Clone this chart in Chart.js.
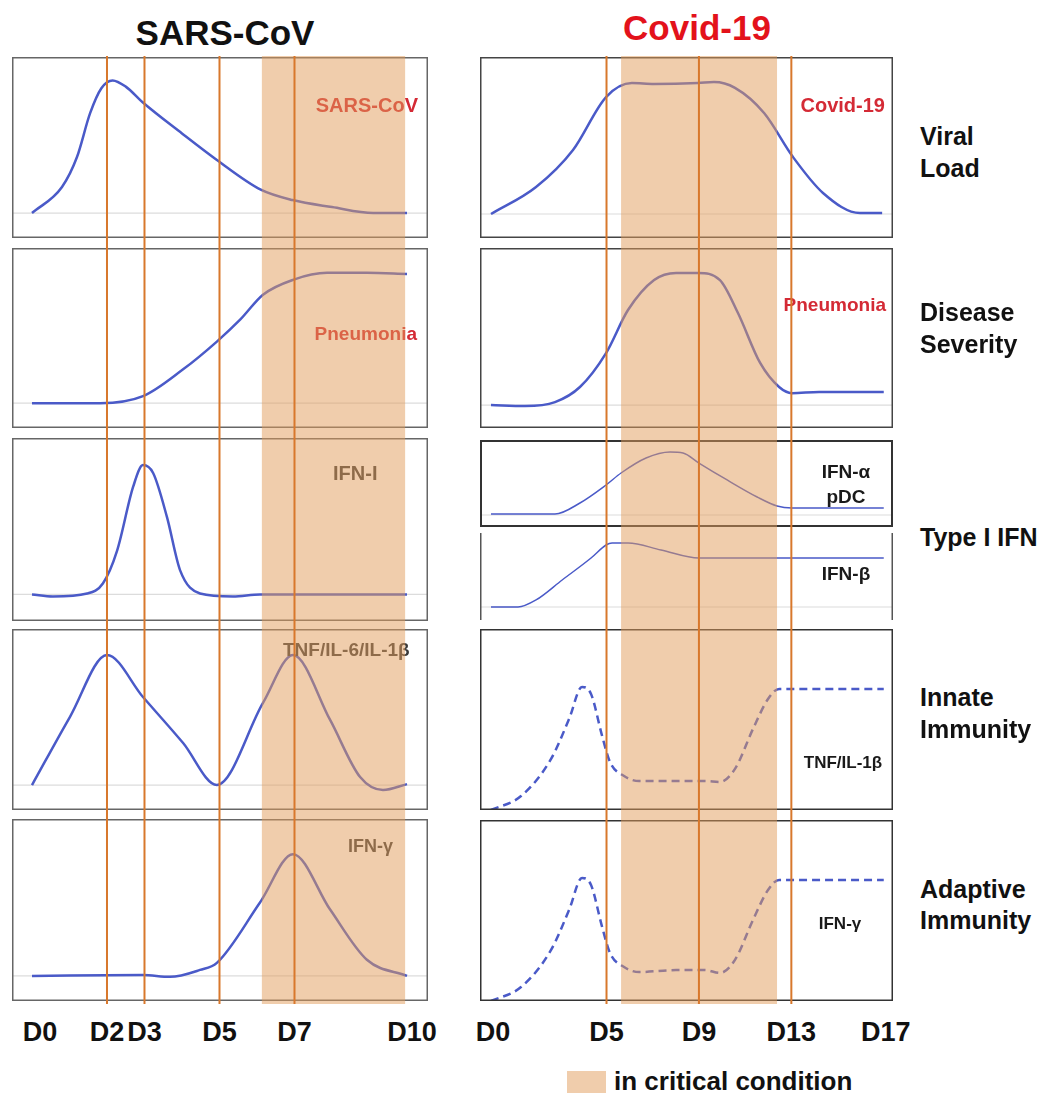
<!DOCTYPE html>
<html>
<head>
<meta charset="utf-8">
<script src="https://cdn.jsdelivr.net/npm/chart.js@4.4.1/dist/chart.umd.min.js"></script>
<style>
  body { margin: 0; background: #fff; }
  #page { position: relative; width: 1046px; height: 1093px; overflow: hidden;
          font-family: "Liberation Sans", Arial, sans-serif; font-weight: bold; }
  #page canvas { position: absolute; }
  .txt { position: absolute; white-space: nowrap; line-height: 1; }
</style>
</head>
<body>
<div id="page"></div>
<script>
// x = day after onset, y = relative level (0 = baseline of each panel)
const sarsViralDays  = [0, 0.8, 1.2, 1.55, 1.85, 2.15, 2.5, 2.95, 4.0, 4.93, 6.1, 6.95, 8.0, 9.1, 10];
const sarsViralLevel = [0, 16.7, 35.9, 64, 80, 85, 81, 71, 51, 34, 15, 8.3, 3.8, 0, 0];

const sarsPneuDays  = [0, 1.82, 2.96, 4.03, 4.93, 5.55, 6.16, 6.96, 7.87, 8.93, 10];
const sarsPneuLevel = [0, 0, 4.5, 21.8, 39.7, 53.8, 69.9, 79.5, 84, 84, 83.3];

const sarsIfnDays  = [0, 0.56, 1.47, 1.89, 2.27, 2.7, 2.96, 3.23, 3.6, 3.95, 4.48, 5.36, 6.08, 10];
const sarsIfnLevel = [0, -1.3, 0.6, 7, 28, 69, 82.7, 77.6, 49.4, 15.4, 0.6, -1.3, 0, 0];

const sarsTnfDays  = [0, 1.01, 2.0, 2.96, 4.03, 4.93, 6.16, 6.96, 7.95, 8.75, 9.36, 10];
const sarsTnfLevel = [0, 43.6, 83.3, 56.4, 26.9, 0, 52.6, 83.3, 41.7, 5.1, -3.2, 0.6];

const sarsGammaDays  = [0, 2.96, 3.68, 4.48, 4.93, 6.08, 6.96, 7.95, 8.93, 10];
const sarsGammaLevel = [0, 0.6, -0.6, 3.8, 8.3, 46.8, 77.6, 42.3, 10.3, 0];

const covidViralDays  = [0, 1.95, 3.55, 4.98, 6.1, 7.06, 8.96, 9.65, 10.56, 11.82, 13.07, 14.37, 15.97, 16.93];
const covidViralLevel = [0, 17.2, 40.8, 74.5, 83.4, 82.8, 83.4, 84, 80.3, 64.3, 36.3, 13.4, 0.6, 0.6];

const covidPneuDays  = [0, 1.47, 2.77, 3.85, 4.98, 5.93, 7.06, 8.01, 8.96, 9.91, 10.69, 11.65, 12.47, 13.03, 14.2, 17];
const covidPneuLevel = [0, -0.6, 1.9, 11.5, 33.1, 60.5, 79.6, 84.1, 84.1, 79.6, 58.6, 26.8, 11.5, 7.6, 8.3, 8.3];

const covidAlphaDays  = [0, 2.77, 3.85, 4.98, 5.63, 6.71, 7.75, 8.31, 9.0, 10.22, 11.52, 12.38, 13.03, 17];
const covidAlphaLevel = [1.3, 1.3, 16, 40, 56, 76, 84, 82.7, 69.3, 46.7, 24, 12, 9.3, 9.3];

const covidBetaDays  = [0, 1.17, 1.95, 3.08, 4.33, 4.98, 5.24, 5.93, 7.36, 9.0, 10.22, 17];
const covidBetaLevel = [0, 0, 9.5, 36.5, 66.2, 83.8, 86.5, 86.5, 77, 66.2, 66.2, 66.2];

const covidInnateDays  = [0, 1.3, 2.6, 3.38, 3.94, 4.33, 4.81, 5.15, 5.76, 6.41, 8.01, 9.26, 9.91, 10.56, 11.34, 11.99, 12.47, 12.94, 17];
const covidInnateLevel = [0, 7.7, 28.2, 50.3, 68, 64.1, 40.9, 26.5, 18.8, 16, 16, 16, 15.5, 22.7, 44.8, 61.3, 66.9, 66.9, 66.9];

const covidAdaptDays  = [0, 1.3, 2.6, 3.38, 3.94, 4.33, 4.81, 5.15, 5.76, 6.41, 8.01, 9.26, 9.91, 10.56, 11.34, 11.99, 12.47, 12.94, 17];
const covidAdaptLevel = [0, 7.7, 28.2, 50.3, 68, 64.1, 40.9, 26.5, 18.8, 16, 17.1, 17.1, 15.5, 22.7, 44.8, 61.3, 66.9, 66.9, 66.9];

const sarsMarkers   = [2, 3, 5, 7];
const sarsCritical  = [6.13, 9.95];
const sarsTicks     = [0, 2, 3, 5, 7, 10];
const covidMarkers  = [5, 9, 13];
const covidCritical = [5.63, 12.38];
const covidTicks    = [0, 5, 9, 13, 17];

const BLUE = '#4a5ac8';
const ORANGE = '#d8782c';
const BAND = 'rgba(225,155,90,0.5)';
const RED = '#d42a35';

const page = document.getElementById('page');

// column geometry: canvas left / width, visible day range, small label nudges at the ends
const cols = {
  sars:  { left: 12,  width: 416, min: -0.533, max: 10.56, nudge: { 0: 8, 10: 5 } },
  covid: { left: 480, width: 413, min: -0.476, max: 17.40, nudge: { 0: 2, 17: 2 } }
};

const panelBox = {
  id: 'panelBox',
  afterDraw(chart, args, opts) {
    const c = chart.ctx, w = chart.width, h = chart.height, lw = opts.width;
    c.save();
    c.strokeStyle = opts.color;
    c.lineWidth = lw;
    if (opts.sides === 'lr') {
      c.beginPath();
      c.moveTo(lw / 2, 0); c.lineTo(lw / 2, h);
      c.moveTo(w - lw / 2, 0); c.lineTo(w - lw / 2, h);
      c.stroke();
    } else {
      c.strokeRect(lw / 2, lw / 2, w - lw, h - lw);
    }
    c.restore();
  }
};

const bandPlugin = {
  id: 'critBand',
  beforeDatasetsDraw(chart, args, opts) {
    const x = chart.scales.x, a = chart.chartArea;
    const x0 = x.getPixelForValue(opts.range[0]);
    const x1 = x.getPixelForValue(opts.range[1]);
    chart.ctx.save();
    chart.ctx.fillStyle = BAND;
    chart.ctx.fillRect(x0, a.top, x1 - x0, a.bottom - a.top);
    chart.ctx.restore();
  }
};

function makeCanvas(left, top, w, h, z) {
  const cv = document.createElement('canvas');
  cv.width = w; cv.height = h;
  cv.style.left = left + 'px'; cv.style.top = top + 'px';
  cv.style.width = w + 'px'; cv.style.height = h + 'px';
  cv.style.zIndex = z;
  page.appendChild(cv);
  return cv;
}

function addText(str, x, base, size, color, align, z) {
  const d = document.createElement('div');
  d.className = 'txt';
  d.textContent = str;
  d.style.fontSize = size + 'px';
  d.style.color = color;
  d.style.top = (base - 0.8465 * size) + 'px';
  d.style.zIndex = z || 4;
  if (align === 'center') { d.style.left = x + 'px'; d.style.transform = 'translateX(-50%)'; }
  else if (align === 'right') { d.style.right = (1046 - x) + 'px'; }
  else { d.style.left = x + 'px'; }
  page.appendChild(d);
}

function panel(cfg) {
  const col = cols[cfg.col];
  const cv = makeCanvas(col.left, cfg.top, col.width, cfg.bottom - cfg.top, 1);
  const datasets = [{
    data: cfg.days.map((d, i) => ({ x: d, y: cfg.level[i] })),
    borderColor: BLUE,
    borderWidth: cfg.lw || 2.5,
    borderDash: cfg.dash || [],
    cubicInterpolationMode: 'monotone',
    pointRadius: 0,
    order: 0
  }];
  if (cfg.baseline !== false) {
    datasets.push({
      data: [{ x: col.min, y: 0 }, { x: col.max, y: 0 }],
      borderColor: '#dcdcdc',
      borderWidth: 1.2,
      pointRadius: 0,
      order: 1
    });
  }
  new Chart(cv, {
    type: 'line',
    data: { datasets },
    options: {
      responsive: false, animation: false, events: [],
      devicePixelRatio: 1,
      layout: { padding: 0 },
      scales: {
        x: { type: 'linear', min: col.min, max: col.max, display: false },
        y: { min: cfg.yMin, max: 100, display: false }
      },
      plugins: {
        legend: { display: false }, tooltip: { enabled: false },
        panelBox: { color: cfg.boxColor || '#666', width: cfg.boxWidth || 1.5, sides: cfg.sides || 'all' }
      }
    },
    plugins: [panelBox]
  });
}

function overlay(colKey, markers, crit, ticks) {
  const col = cols[colKey];
  const top = 56, bottom = 1004;
  const cv = makeCanvas(col.left, top, col.width, bottom - top, 3);
  const chart = new Chart(cv, {
    type: 'line',
    data: {
      datasets: markers.map(d => ({
        data: [{ x: d, y: 0 }, { x: d, y: 1 }],
        borderColor: ORANGE, borderWidth: 2, pointRadius: 0
      }))
    },
    options: {
      responsive: false, animation: false, events: [],
      devicePixelRatio: 1,
      layout: { padding: 0 },
      scales: {
        x: { type: 'linear', min: col.min, max: col.max, display: false },
        y: { min: 0, max: 1, display: false }
      },
      plugins: { legend: { display: false }, tooltip: { enabled: false }, critBand: { range: crit } }
    },
    plugins: [bandPlugin]
  });
  ticks.forEach(t => {
    const x = col.left + chart.scales.x.getPixelForValue(t) + (col.nudge[t] || 0);
    addText('D' + t, x, 1042, 27, '#111', 'center');
  });
}

// left column: SARS-CoV
panel({ col: 'sars', top: 57,  bottom: 238,  yMin: -16, days: sarsViralDays, level: sarsViralLevel });
panel({ col: 'sars', top: 248, bottom: 428,  yMin: -16, days: sarsPneuDays,  level: sarsPneuLevel });
panel({ col: 'sars', top: 438, bottom: 621,  yMin: -17, days: sarsIfnDays,   level: sarsIfnLevel });
panel({ col: 'sars', top: 629, bottom: 810,  yMin: -16, days: sarsTnfDays,   level: sarsTnfLevel });
panel({ col: 'sars', top: 819, bottom: 1001, yMin: -16, days: sarsGammaDays, level: sarsGammaLevel });

// right column: Covid-19
panel({ col: 'covid', top: 57,  bottom: 238, yMin: -15.3, days: covidViralDays, level: covidViralLevel, boxColor: '#444' });
panel({ col: 'covid', top: 248, bottom: 428, yMin: -14.6, days: covidPneuDays,  level: covidPneuLevel,  boxColor: '#444' });
panel({ col: 'covid', top: 440, bottom: 527, yMin: -16,   days: covidAlphaDays, level: covidAlphaLevel, boxColor: '#333', boxWidth: 2, lw: 1.5 });
panel({ col: 'covid', top: 533, bottom: 620, yMin: -17.6, days: covidBetaDays,  level: covidBetaLevel,  boxColor: '#555', sides: 'lr', lw: 1.5 });
panel({ col: 'covid', top: 629, bottom: 810, yMin: 0, days: covidInnateDays, level: covidInnateLevel, baseline: false, dash: [8, 5], boxColor: '#333' });
panel({ col: 'covid', top: 820, bottom: 1001, yMin: 0, days: covidAdaptDays, level: covidAdaptLevel, baseline: false, dash: [8, 5], boxColor: '#333' });

// labels inside panels (under the critical band)
addText('SARS-CoV', 418, 112, 20, RED, 'right', 2);
addText('Pneumonia', 417, 340, 19, RED, 'right', 2);
addText('IFN-I', 333, 480, 20, '#3a3a3a', 'left', 2);
addText('TNF/IL-6/IL-1\u03b2', 283, 656, 19, '#3a3a3a', 'left', 2);
addText('IFN-\u03b3', 348, 852, 18, '#3a3a3a', 'left', 2);
addText('Covid-19', 885, 112, 20, RED, 'right', 2);
addText('Pneumonia', 886, 311, 19, RED, 'right', 2);
addText('IFN-\u03b1', 846, 478, 19, '#1a1a1a', 'center', 2);
addText('pDC', 846, 503, 19, '#1a1a1a', 'center', 2);
addText('IFN-\u03b2', 846, 580, 19, '#1a1a1a', 'center', 2);
addText('TNF/IL-1\u03b2', 843, 768, 17, '#1a1a1a', 'center', 2);
addText('IFN-\u03b3', 840, 929, 17, '#1a1a1a', 'center', 2);

overlay('sars', sarsMarkers, sarsCritical, sarsTicks);
overlay('covid', covidMarkers, covidCritical, covidTicks);

// titles and row labels
addText('SARS-CoV', 225, 45, 35, '#111', 'center');
addText('Covid-19', 697, 40, 35, '#e3121b', 'center');
addText('Viral', 920, 145, 25, '#111');
addText('Load', 920, 177, 25, '#111');
addText('Disease', 920, 321, 25, '#111');
addText('Severity', 920, 353, 25, '#111');
addText('Type I IFN', 920, 546, 25, '#111');
addText('Innate', 920, 706, 25, '#111');
addText('Immunity', 920, 738, 25, '#111');
addText('Adaptive', 920, 898, 25, '#111');
addText('Immunity', 920, 929, 25, '#111');

// legend
const key = document.createElement('div');
key.style.cssText = 'position:absolute;left:567px;top:1071px;width:39px;height:22px;background:rgb(240,205,172);z-index:4';
page.appendChild(key);
addText('in critical condition', 614, 1090, 26, '#111');
</script>
</body>
</html>
